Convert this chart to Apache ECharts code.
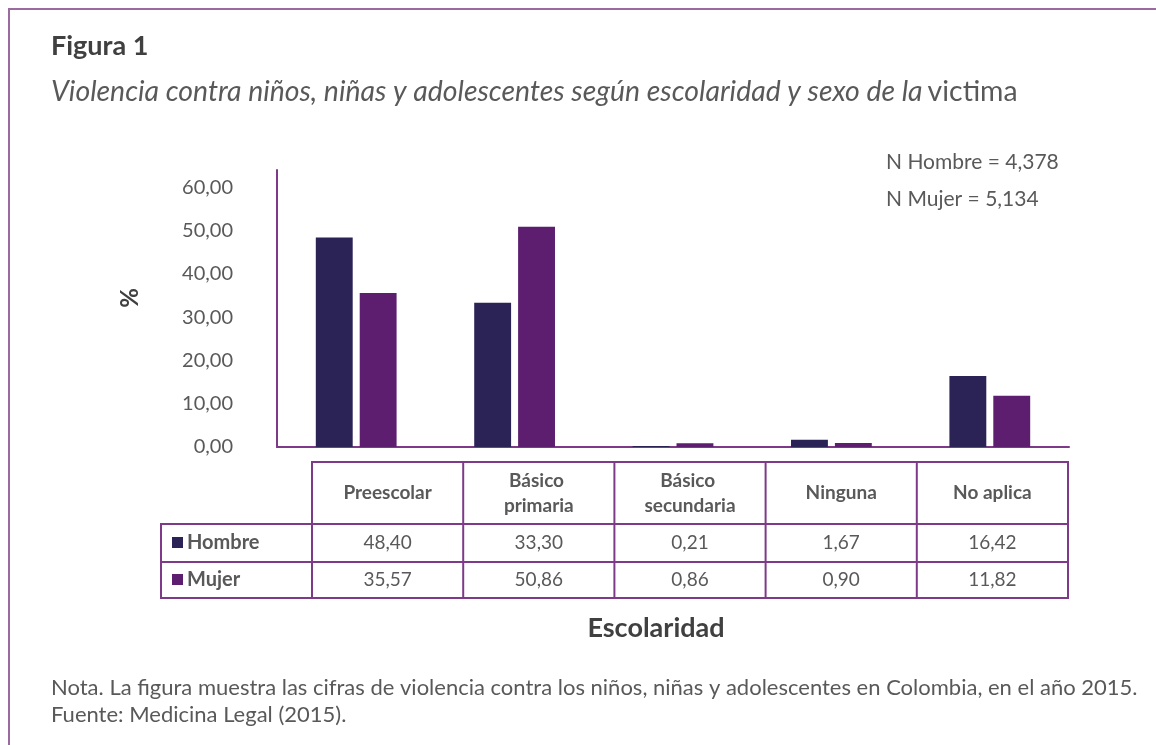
<!DOCTYPE html>
<html>
<head>
<meta charset="utf-8">
<script src="https://cdn.jsdelivr.net/npm/echarts@6/dist/echarts.min.js"></script>
<style>
  html, body { margin: 0; padding: 0; background: #fff; }
  #chart { width: 1156px; height: 745px; }
</style>
</head>
<body>
<div id="chart"></div>
<script>
const categories = ['Preescolar', 'Básico primaria', 'Básico secundaria', 'Ninguna', 'No aplica'];
const hombre = [48.40, 33.30, 0.21, 1.67, 16.42];
const mujer = [35.57, 50.86, 0.86, 0.90, 11.82];
const seriesNames = ['Hombre', 'Mujer'];
const nNotes = ['N Hombre = 4,378', 'N Mujer = 5,134'];

const colors = ['#2b2356', '#5d1e6f'];
const border = '#7e3a88';
const font = 'Lato';
const fmt = v => v.toFixed(2).replace('.', ',');

const chart = echarts.init(document.getElementById('chart'));

// data table under the plot
const tblX = 312, colW = 151.2, lblX = 161;
const rowY = [462, 524, 562, 598];
const tableEls = [];
tableEls.push({ type: 'rect', shape: { x: tblX, y: rowY[0], width: colW * 5, height: rowY[3] - rowY[0] }, style: { fill: 'none', stroke: border, lineWidth: 2 } });
tableEls.push({ type: 'rect', shape: { x: lblX, y: rowY[1], width: tblX - lblX, height: rowY[3] - rowY[1] }, style: { fill: 'none', stroke: border, lineWidth: 2 } });
for (let i = 1; i < 5; i++) {
  tableEls.push({ type: 'line', shape: { x1: tblX + colW * i, y1: rowY[0], x2: tblX + colW * i, y2: rowY[3] }, style: { stroke: border, lineWidth: 2 } });
}
[rowY[1], rowY[2]].forEach(y => {
  tableEls.push({ type: 'line', shape: { x1: lblX, y1: y, x2: tblX + colW * 5, y2: y }, style: { stroke: border, lineWidth: 2 } });
});
categories.forEach((c, i) => {
  tableEls.push({ type: 'text', x: tblX + colW * i + colW / 2, y: (rowY[0] + rowY[1]) / 2,
    style: { text: c, width: 115, overflow: 'break', font: 'bold 19px ' + font, fill: '#595959', align: 'center', verticalAlign: 'middle', lineHeight: 25 } });
});
[hombre, mujer].forEach((arr, r) => {
  const cy = (rowY[r + 1] + rowY[r + 2]) / 2;
  tableEls.push({ type: 'rect', shape: { x: 172, y: cy - 6, width: 11, height: 11 }, style: { fill: colors[r] } });
  tableEls.push({ type: 'text', x: 187, y: cy, style: { text: seriesNames[r], font: 'bold 20px ' + font, fill: '#595959', verticalAlign: 'middle' } });
  arr.forEach((v, i) => {
    tableEls.push({ type: 'text', x: tblX + colW * i + colW / 2, y: cy,
      style: { text: fmt(v), font: '19px ' + font, fill: '#595959', align: 'center', verticalAlign: 'middle' } });
  });
});

chart.setOption({
  color: colors,
  animation: false,
  title: [
    { text: 'Figura 1', left: 46, top: 28, textStyle: { fontFamily: font, fontWeight: 'bold', fontSize: 27, color: '#404040' } },
    { text: '{i|Violencia contra niños, niñas y adolescentes según escolaridad y sexo de la} {n|victima}', left: 46, top: 73,
      textStyle: { rich: {
        i: { fontFamily: font, fontStyle: 'italic', fontWeight: 'normal', fontSize: 28.4, color: '#595959' },
        n: { fontFamily: font, fontStyle: 'normal', fontWeight: 'normal', fontSize: 28.4, color: '#595959' } } } },
    { text: nNotes.join('\n'), left: 881, top: 139, textStyle: { fontFamily: font, fontSize: 21, color: '#595959', fontWeight: 'normal', lineHeight: 37 } },
    { text: 'Escolaridad', left: 651, top: 610, textAlign: 'center', textStyle: { fontFamily: font, fontWeight: 'bold', fontSize: 27, color: '#404040' } },
    { text: 'Nota. La figura muestra las cifras de violencia contra los niños, niñas y adolescentes en Colombia, en el año 2015.\nFuente: Medicina Legal (2015).',
      left: 46, top: 669, textStyle: { fontFamily: font, fontSize: 22, color: '#595959', fontWeight: 'normal', lineHeight: 27 } }
  ],
  grid: { left: 277, right: 87, top: 170, bottom: 298 },
  xAxis: {
    type: 'category',
    data: categories,
    axisLine: { lineStyle: { color: border, width: 2 } },
    axisTick: { show: false },
    axisLabel: { show: false }
  },
  yAxis: {
    type: 'value',
    min: 0,
    max: 64,
    interval: 10,
    axisLine: { show: true, lineStyle: { color: border, width: 2 } },
    axisTick: { show: false },
    splitLine: { show: false },
    axisLabel: { showMaxLabel: false, margin: 44, fontFamily: font, fontSize: 20, color: '#595959', formatter: v => fmt(v) }
  },
  series: [
    { name: seriesNames[0], type: 'bar', data: hombre, barGap: '19%', barCategoryGap: '49%' },
    { name: seriesNames[1], type: 'bar', data: mujer }
  ],
  graphic: [
    { type: 'rect', shape: { x: 9, y: 9, width: 1170, height: 760 }, style: { fill: 'none', stroke: '#9a6aa0', lineWidth: 2 } },
    { type: 'text', x: 130, y: 298, rotation: Math.PI / 2,
      style: { text: '%', font: 'bold 24px ' + font, fill: '#404040', align: 'center', verticalAlign: 'middle' } },
    ...tableEls
  ]
});
</script>
</body>
</html>
